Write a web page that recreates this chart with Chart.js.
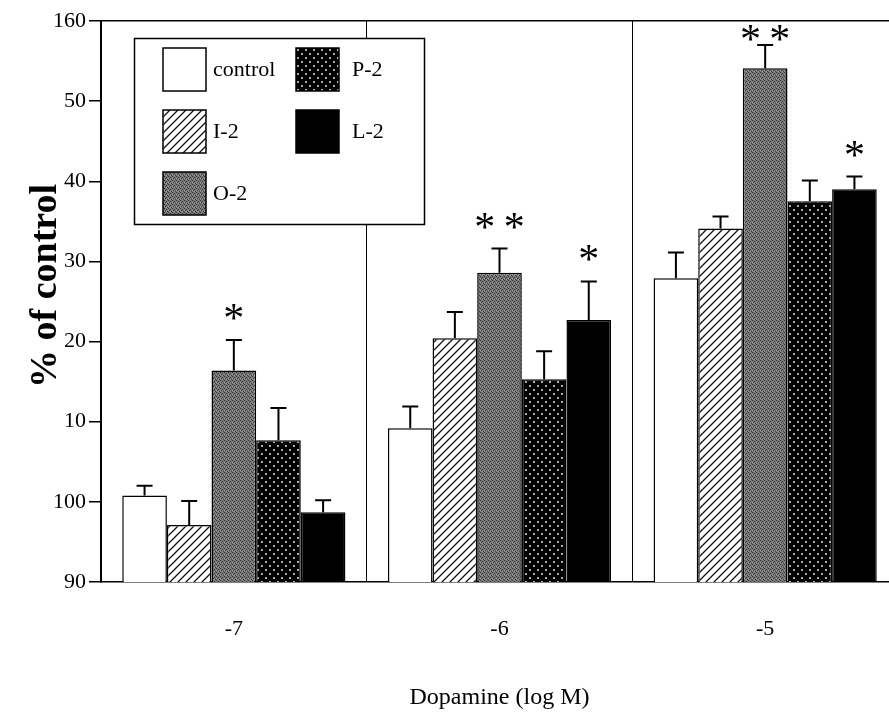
<!DOCTYPE html>
<html lang="en">
<head>
<meta charset="UTF-8">
<title>Dopamine response</title>
<script src="https://cdn.jsdelivr.net/npm/chart.js@4"></script>
<style>
  html, body { margin: 0; padding: 0; background: #fff; overflow: hidden; }
  #wrap { width: 910px; height: 720px; }
</style>
</head>
<body>
<div id="wrap"><canvas id="chart" width="910" height="720"></canvas></div>
<script>
// values
const categories = ['-7', '-6', '-5'];
const seriesNames = ['control', 'I-2', 'O-2', 'P-2', 'L-2'];
const controlVals = [100.8, 109.2, 127.9];
const i2Vals = [97.1, 120.4, 134.1];
const o2Vals = [116.4, 128.6, 154.1];
const p2Vals = [107.7, 115.3, 137.5];
const l2Vals = [98.7, 122.7, 139.0];
const controlErr = [1.2, 2.7, 3.2];
const i2Err = [3.0, 3.3, 1.5];
const o2Err = [3.8, 3.0, 2.9];
const p2Err = [4.0, 3.5, 2.6];
const l2Err = [1.5, 4.8, 1.6];
const controlSig = ['', '', ''];
const i2Sig = ['', '', ''];
const o2Sig = ['*', '**', '**'];
const p2Sig = ['', '', ''];
const l2Sig = ['', '*', '*'];
const yTickLabels = ['90', '100', '10', '20', '30', '40', '50', '160'];
const yTitle = '% of control';

const SERIF = '"Liberation Serif", "Times New Roman", serif';

function makePattern(size, paint) {
  const c = document.createElement('canvas');
  c.width = size; c.height = size;
  paint(c.getContext('2d'), size);
  return c.getContext('2d').createPattern(c, 'repeat');
}

const hatch = makePattern(8, (g, s) => {
  g.fillStyle = '#fff'; g.fillRect(0, 0, s, s);
  g.strokeStyle = '#111'; g.lineWidth = 1.3;
  g.beginPath();
  g.moveTo(-2, s + 2); g.lineTo(s + 2, -2);
  g.moveTo(-2, 2); g.lineTo(2, -2);
  g.moveTo(s - 2, s + 2); g.lineTo(s + 2, s - 2);
  g.stroke();
});
const grey = makePattern(4, (g, s) => {
  g.fillStyle = '#7a7a7a'; g.fillRect(0, 0, s, s);
  g.fillStyle = '#333';
  [[0, 0], [2, 1], [1, 2], [3, 3]].forEach(p => g.fillRect(p[0], p[1], 1, 1));
  g.fillStyle = '#a0a0a0';
  [[2, 3], [0, 2]].forEach(p => g.fillRect(p[0], p[1], 1, 1));
});
const dots = makePattern(8, (g, s) => {
  g.fillStyle = '#000'; g.fillRect(0, 0, s, s);
  g.fillStyle = '#fff';
  g.beginPath(); g.arc(2, 2, 0.9, 0, Math.PI * 2); g.fill();
  g.beginPath(); g.arc(6, 6, 0.9, 0, Math.PI * 2); g.fill();
});

const fills = ['#fff', hatch, grey, dots, '#000'];
const allVals = [controlVals, i2Vals, o2Vals, p2Vals, l2Vals];
const allErr = [controlErr, i2Err, o2Err, p2Err, l2Err];
const allSig = [controlSig, i2Sig, o2Sig, p2Sig, l2Sig];

const errorBars = {
  id: 'errorBars',
  afterDatasetsDraw(chart) {
    const ctx = chart.ctx, ys = chart.scales.y;
    ctx.save();
    ctx.strokeStyle = '#000';
    ctx.lineWidth = 2;
    chart.data.datasets.forEach((ds, i) => {
      chart.getDatasetMeta(i).data.forEach((bar, j) => {
        const top = ys.getPixelForValue(ds.data[j] + ds.err[j]);
        ctx.beginPath();
        ctx.moveTo(bar.x, bar.y); ctx.lineTo(bar.x, top);
        ctx.moveTo(bar.x - 8, top); ctx.lineTo(bar.x + 8, top);
        ctx.stroke();
        const s = ds.sig[j];
        if (s) {
          ctx.fillStyle = '#000';
          ctx.font = '42px ' + SERIF;
          ctx.textAlign = 'center';
          ctx.textBaseline = 'middle';
          const sy = Math.max(top - 28, chart.chartArea.top + 12);
          ctx.fillText(s.split('').join('\u2009'), bar.x, sy + 9);
        }
      });
    });
    ctx.restore();
  }
};

const boxLegend = {
  id: 'boxLegend',
  afterDraw(chart) {
    const ctx = chart.ctx;
    ctx.save();
    ctx.fillStyle = '#fff';
    ctx.fillRect(134, 38, 290, 186);
    ctx.strokeStyle = '#000';
    ctx.lineWidth = 1.5;
    ctx.strokeRect(134.5, 38.5, 290, 186);
    const slots = [[163, 48], [163, 110], [163, 172], [296, 48], [296, 110]];
    chart.data.datasets.forEach((ds, i) => {
      const [x, y] = slots[i];
      ctx.fillStyle = ds.backgroundColor;
      ctx.fillRect(x, y, 43, 43);
      ctx.lineWidth = 1.5;
      ctx.strokeRect(x, y, 43, 43);
      ctx.fillStyle = '#000';
      ctx.font = '22px ' + SERIF;
      ctx.textAlign = 'left';
      ctx.textBaseline = 'middle';
      ctx.fillText(ds.label, x + (i < 3 ? 50 : 56), y + 22);
    });
    // y axis title, placed as in the figure
    ctx.translate(46, 286);
    ctx.rotate(-Math.PI / 2);
    ctx.font = 'bold 38px ' + SERIF;
    ctx.textAlign = 'center';
    ctx.textBaseline = 'middle';
    ctx.fillText(yTitle, 0, 0);
    ctx.restore();
  }
};

new Chart(document.getElementById('chart'), {
  type: 'bar',
  data: {
    labels: categories,
    datasets: seriesNames.map((name, i) => ({
      label: name,
      data: allVals[i],
      err: allErr[i],
      sig: allSig[i],
      backgroundColor: fills[i],
      borderColor: '#000',
      borderWidth: 1.5,
      barPercentage: 1,
      categoryPercentage: 0.84
    }))
  },
  options: {
    responsive: false,
    animation: false,
    layout: { padding: { top: 21, right: 12, left: 0, bottom: 0 } },
    plugins: { legend: { display: false }, tooltip: { enabled: false } },
    scales: {
      x: {
        grid: { color: '#000', lineWidth: 1, offset: true, drawTicks: false },
        border: { color: '#000', width: 1.5 },
        ticks: { color: '#000', padding: 34, font: { family: SERIF, size: 22 } },
        title: { display: true, text: 'Dopamine (log M)', color: '#000',
                 padding: { top: 0, bottom: 8 }, font: { family: SERIF, size: 24 } },
        afterFit(scale) { scale.height = 138; }
      },
      y: {
        min: 90, max: 160,
        grid: {
          color: c => (c.tick && c.tick.value === 160 ? '#000' : 'rgba(0,0,0,0)'),
          tickColor: '#000', tickLength: 12, lineWidth: 1.5
        },
        border: { color: '#000', width: 2 },
        ticks: {
          stepSize: 10, color: '#000', padding: 3,
          font: { family: SERIF, size: 22 },
          callback: (v, i) => yTickLabels[i]
        },
        afterFit(scale) { scale.width = 101; }
      }
    }
  },
  plugins: [errorBars, boxLegend]
});
</script>
</body>
</html>
